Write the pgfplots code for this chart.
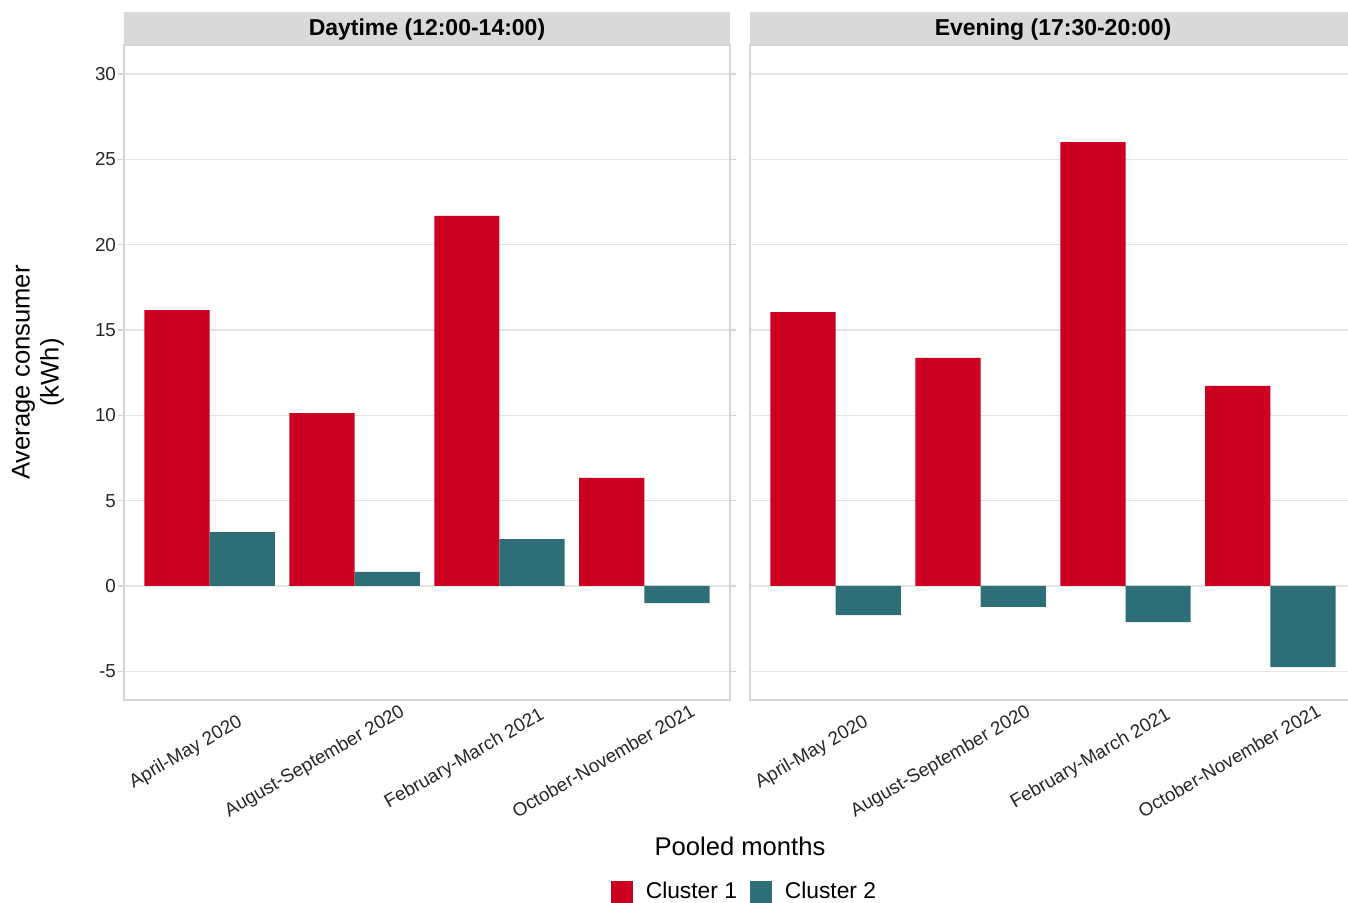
\documentclass[border=0pt]{standalone}
\usepackage{pgfplots}
\pgfplotsset{compat=1.18}
\usepackage{fontspec}
\setmainfont{Liberation Sans}
\definecolor{cred}{HTML}{CC0020}
\definecolor{cteal}{HTML}{2E6E77}
\definecolor{stripc}{HTML}{D9D9D9}
\definecolor{bord}{HTML}{D4D4D4}
\definecolor{gridc}{HTML}{E4E4E4}
\newcommand\rl[1]{\sbox0{#1}\usebox0\hspace*{0.48\wd0}}

\pgfplotsset{
 panel/.style={
  scale only axis, width=303pt, height=327.5pt,
  xmin=-0.59, xmax=3.59, ymin=-6.68, ymax=31.7,
  axis line style={draw=bord, line width=0.8pt},
  ymajorgrids, grid style={draw=gridc, line width=0.6pt},
  ytick={-5,0,5,10,15,20,25,30},
  xtick={0,1,2,3},
  x tick style={draw=none},
  y tick style={draw=bord, line width=0.6pt},
  major tick length=3pt, tick align=outside,
  ticklabel style={font=\fontsize{9.4}{11}\selectfont, text=black!85},
  yticklabel style={xshift=2.5pt},
  /pgf/number format/assume math mode=true,
  xticklabels={\rl{April-May 2020},\rl{August-September 2020},\rl{February-March 2021},\rl{October-November 2021}},
  xticklabel style={rotate=30, anchor=north, yshift=-6.4pt, xshift=-6.7pt},
  clip=false,
 }
}

\begin{document}
\begin{tikzpicture}
\useasboundingbox (0,0) rectangle (674pt,451.5pt);

% Left panel: Daytime
\begin{axis}[panel, at={(62pt,101.5pt)}, anchor=south west,
  ylabel={Average consumer\\(kWh)},
  ylabel style={at={(axis description cs:-0.142,0.5)}, anchor=center, align=center,
    font=\fontsize{12.8}{14.5}\selectfont},
  legend style={at={(axis description cs:1.0256,-0.293)}, anchor=center, draw=none,
    font=\fontsize{11.4}{13}\selectfont, legend columns=2,
    /tikz/every odd column/.append style={column sep=4.5pt},
    /tikz/every even column/.append style={column sep=4.5pt}},
]
\addplot[ybar, bar width=0.45, bar shift=0pt, fill=cred, draw=none, forget plot]
  coordinates {(-0.225,16.17) (0.775,10.13) (1.775,21.68) (2.775,6.33)};
\addplot[ybar, bar width=0.45, bar shift=0pt, fill=cteal, draw=none, forget plot]
  coordinates {(0.225,3.16) (1.225,0.82) (2.225,2.75) (3.225,-1.00)};
\addlegendimage{legend image code/.code={\fill[cred] (0pt,-5.25pt) rectangle (10.5pt,5.25pt);}}
\addlegendentry{Cluster 1}
\addlegendimage{legend image code/.code={\fill[cteal] (0pt,-5.25pt) rectangle (10.5pt,5.25pt);}}
\addlegendentry{Cluster 2}
\fill[stripc] (rel axis cs:0,1) rectangle ([yshift=16.5pt]rel axis cs:1,1);
\node[font=\bfseries\fontsize{11.5}{13}\selectfont] at ([yshift=7.7pt]rel axis cs:0.5,1) {Daytime (12:00-14:00)};
\node[font=\fontsize{12.8}{14.5}\selectfont] at (axis description cs:1.0165,-0.223) {Pooled months};
\end{axis}

% Right panel: Evening
\begin{axis}[panel, at={(375pt,101.5pt)}, anchor=south west,
  yticklabels={}, y tick style={draw=none}]
\addplot[ybar, bar width=0.45, bar shift=0pt, fill=cred, draw=none]
  coordinates {(-0.225,16.05) (0.775,13.36) (1.775,26.01) (2.775,11.72)};
\addplot[ybar, bar width=0.45, bar shift=0pt, fill=cteal, draw=none]
  coordinates {(0.225,-1.70) (1.225,-1.23) (2.225,-2.11) (3.225,-4.75)};
\fill[stripc] (rel axis cs:0,1) rectangle ([yshift=16.5pt]rel axis cs:1,1);
\node[font=\bfseries\fontsize{11.5}{13}\selectfont] at ([yshift=7.7pt]rel axis cs:0.5,1) {Evening (17:30-20:00)};
\end{axis}
\end{tikzpicture}
\end{document}
